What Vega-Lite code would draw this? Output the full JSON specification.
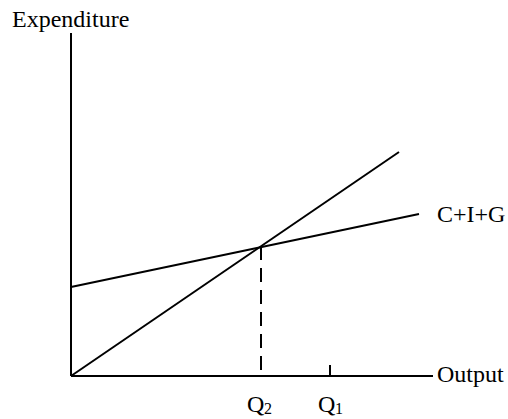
{
  "$schema": "https://vega.github.io/schema/vega-lite/v6.json",
  "width": 508,
  "height": 419,
  "autosize": {"type": "fit", "contains": "padding"},
  "padding": 0,
  "background": "white",
  "view": {"stroke": null},
  "config": {"text": {"font": "Liberation Serif", "color": "black"}},
  "datasets": {
    "lines": [
      {"id": "yaxis", "x": 0, "y": 0},
      {"id": "yaxis", "x": 0, "y": 343},
      {"id": "xaxis", "x": 0, "y": 0},
      {"id": "xaxis", "x": 362, "y": 0},
      {"id": "diag", "x": 0, "y": 0},
      {"id": "diag", "x": 328, "y": 224},
      {"id": "cig", "x": 0, "y": 89},
      {"id": "cig", "x": 348, "y": 162},
      {"id": "q1tick", "x": 259, "y": 0},
      {"id": "q1tick", "x": 259, "y": 11}
    ],
    "dashed": [
      {"x": 190, "y": 130},
      {"x": 190, "y": 0}
    ],
    "labels": [
      {"label": "Expenditure", "x": -59, "y": 349},
      {"label": "Output", "x": 366, "y": -6},
      {"label": "C+I+G", "x": 366, "y": 154},
      {"label": "Q", "x": 176, "y": -36},
      {"label": "Q", "x": 247, "y": -36}
    ],
    "subs": [
      {"label": "2", "x": 193, "y": -38},
      {"label": "1", "x": 264, "y": -38}
    ]
  },
  "layer": [
    {
      "data": {"name": "lines"},
      "mark": {"type": "line", "color": "black", "strokeWidth": 2},
      "encoding": {
        "x": {"field": "x", "type": "quantitative", "scale": {"domain": [-71, 437], "nice": false, "zero": false}, "axis": null},
        "y": {"field": "y", "type": "quantitative", "scale": {"domain": [-43, 376], "nice": false, "zero": false}, "axis": null},
        "detail": {"field": "id"},
        "order": {"field": "x"}
      }
    },
    {
      "data": {"name": "dashed"},
      "mark": {"type": "line", "color": "black", "strokeWidth": 2, "strokeDash": [14, 8]},
      "encoding": {
        "x": {"field": "x", "type": "quantitative"},
        "y": {"field": "y", "type": "quantitative"}
      }
    },
    {
      "data": {"name": "labels"},
      "mark": {"type": "text", "fontSize": 24, "align": "left", "baseline": "alphabetic"},
      "encoding": {
        "x": {"field": "x", "type": "quantitative"},
        "y": {"field": "y", "type": "quantitative"},
        "text": {"field": "label"}
      }
    },
    {
      "data": {"name": "subs"},
      "mark": {"type": "text", "fontSize": 16, "align": "left", "baseline": "alphabetic"},
      "encoding": {
        "x": {"field": "x", "type": "quantitative"},
        "y": {"field": "y", "type": "quantitative"},
        "text": {"field": "label"}
      }
    }
  ]
}
